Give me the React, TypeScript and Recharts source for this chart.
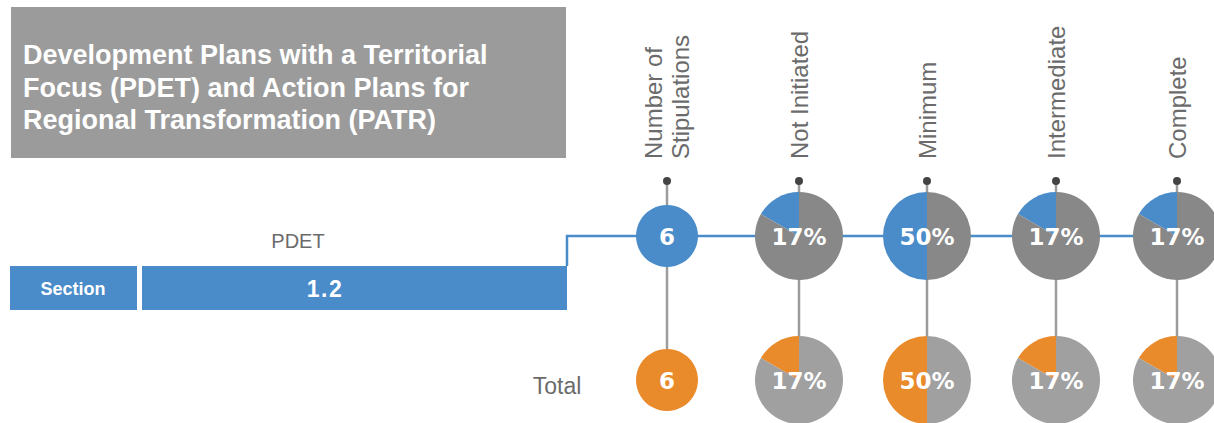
import { PieChart, Pie, Cell } from 'recharts';

// header / row labels
const titleLines = [
  'Development Plans with a Territorial',
  'Focus (PDET) and Action Plans for',
  'Regional Transformation (PATR)',
];
const columnLabels = [['Number of', 'Stipulations'], ['Not Initiated'], ['Minimum'], ['Intermediate'], ['Complete']];
const sectionLabel = 'Section';
const sectionValue = '1.2';
const rowLabels = ['PDET', 'Total'];

// values
const stipulationsPdet = 6;
const stipulationsTotal = 6;
const pdetCounts = [1, 3, 1, 1];
const totalCounts = [1, 3, 1, 1];

// layout
const W = 1214;
const H = 423;
const colX = [667, 799, 927, 1056, 1177];
const topY = 236;
const bottomY = 380;
const dotY = 181;
const pieR = 44;
const stipR = 31;

const BLUE = '#4a8bc9';
const ORANGE = '#e98a2b';
const DARK_GRAY = '#888888';
const LIGHT_GRAY = '#a0a0a0';
const TEXT_GRAY = '#6b6b6b';
const FONT = '"Liberation Sans", Arial, Helvetica, sans-serif';

const centerLabel = (text: string, size: number) => (props: any) => {
  if (props.index !== 0) return null;
  return (
    <text
      x={props.cx}
      y={props.cy + 1}
      textAnchor="middle"
      dominantBaseline="central"
      fill="#fff"
      fontSize={size}
      fontWeight="bold"
      fontFamily='"DejaVu Sans", sans-serif'
    >
      {text}
    </text>
  );
};

const pct = (count: number, total: number) => `${Math.round((count / total) * 100)}%`;

export default function App() {
  return (
    <div style={{ position: 'absolute', left: 0, top: 0, width: W, height: H, background: '#fff', fontFamily: FONT }}>
      <svg width={W} height={H} style={{ position: 'absolute', left: 0, top: 0 }}>
        <rect x={11} y={7} width={555} height={151} fill="#9b9b9b" />
        {titleLines.map((t, i) => (
          <text key={t} x={23} y={64 + i * 32.5} fill="#fff" fontSize={27} fontWeight="bold" fontFamily={FONT}>
            {t}
          </text>
        ))}

        <text x={298} y={248} textAnchor="middle" fill={TEXT_GRAY} fontSize={20} fontFamily={FONT}>
          {rowLabels[0]}
        </text>
        <text x={557} y={394} textAnchor="middle" fill={TEXT_GRAY} fontSize={23} fontFamily={FONT}>
          {rowLabels[1]}
        </text>

        <rect x={10} y={266} width={127} height={44} fill={BLUE} />
        <rect x={142} y={266} width={425} height={44} fill={BLUE} />
        <text x={73} y={295} textAnchor="middle" fill="#fff" fontSize={18} fontWeight="bold" fontFamily={FONT}>
          {sectionLabel}
        </text>
        <text x={325} y={297} textAnchor="middle" fill="#fff" fontSize={23} fontWeight="bold" fontFamily={FONT} letterSpacing={1.5}>
          {sectionValue}
        </text>

        <polyline points={`567,266 567,${topY} ${W},${topY}`} fill="none" stroke={BLUE} strokeWidth={2.5} />

        {colX.map((x, i) => (
          <g key={i}>
            <line x1={x} y1={dotY} x2={x} y2={bottomY - 20} stroke="#9c9c9c" strokeWidth={2.5} />
            <circle cx={x} cy={dotY} r={4} fill="#444" />
            {columnLabels[i].map((l, j) => {
              const lx = x + (j - (columnLabels[i].length - 1) / 2) * 27;
              return (
                <text
                  key={l}
                  x={lx}
                  y={159}
                  transform={`rotate(-90 ${lx} 159)`}
                  dominantBaseline="central"
                  fill={TEXT_GRAY}
                  fontSize={24}
                  fontFamily={FONT}
                >
                  {l}
                </text>
              );
            })}
          </g>
        ))}
      </svg>

      <div style={{ position: 'absolute', left: 0, top: 0 }}>
        <PieChart width={W} height={H} margin={{ top: 0, right: 0, bottom: 0, left: 0 }}>
          <Pie
            data={[{ name: 'Stipulations', value: stipulationsPdet }]}
            dataKey="value"
            cx={colX[0]}
            cy={topY}
            outerRadius={stipR}
            stroke="none"
            fill={BLUE}
            label={centerLabel(String(stipulationsPdet), 23)}
            labelLine={false}
            isAnimationActive={false}
          />
          <Pie
            data={[{ name: 'Stipulations', value: stipulationsTotal }]}
            dataKey="value"
            cx={colX[0]}
            cy={bottomY}
            outerRadius={stipR}
            stroke="none"
            fill={ORANGE}
            label={centerLabel(String(stipulationsTotal), 23)}
            labelLine={false}
            isAnimationActive={false}
          />
          {pdetCounts.map((c, i) => (
            <Pie
              key={`p${i}`}
              data={[
                { name: columnLabels[i + 1][0], value: c },
                { name: 'Other', value: stipulationsPdet - c },
              ]}
              dataKey="value"
              cx={colX[i + 1]}
              cy={topY}
              outerRadius={pieR}
              startAngle={90}
              endAngle={450}
              stroke="none"
              label={centerLabel(pct(c, stipulationsPdet), 23)}
              labelLine={false}
              isAnimationActive={false}
            >
              <Cell fill={BLUE} />
              <Cell fill={DARK_GRAY} />
            </Pie>
          ))}
          {totalCounts.map((c, i) => (
            <Pie
              key={`t${i}`}
              data={[
                { name: columnLabels[i + 1][0], value: c },
                { name: 'Other', value: stipulationsTotal - c },
              ]}
              dataKey="value"
              cx={colX[i + 1]}
              cy={bottomY}
              outerRadius={pieR}
              startAngle={90}
              endAngle={450}
              stroke="none"
              label={centerLabel(pct(c, stipulationsTotal), 23)}
              labelLine={false}
              isAnimationActive={false}
            >
              <Cell fill={ORANGE} />
              <Cell fill={LIGHT_GRAY} />
            </Pie>
          ))}
        </PieChart>
      </div>
    </div>
  );
}
